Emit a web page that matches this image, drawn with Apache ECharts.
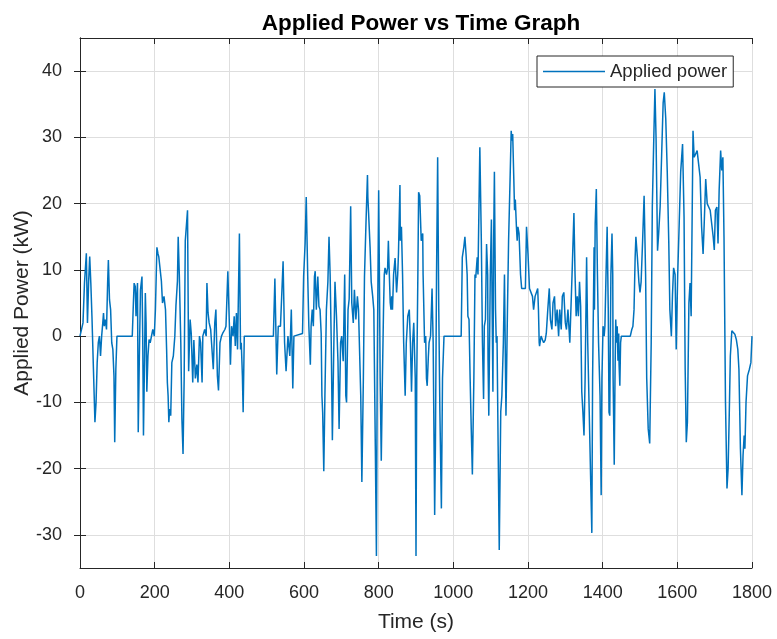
<!DOCTYPE html>
<html><head><meta charset="utf-8">
<script src="https://cdn.jsdelivr.net/npm/echarts@6/dist/echarts.min.js"></script>
<style>html,body{margin:0;padding:0;background:#fff}#c{width:777px;height:639px}</style>
</head><body><div id="c"></div>
<script>
// [time (s), applied power (kW)], split into 200 s blocks
const seg0 = [[0,0],[8,2],[12,8],[17,12.5],[20,2],[23,8],[26,12],[29,8],[32,3],[36,-5],[40,-13],[43,-10],[46,-4],[49,-1],[52,0],[55,-3],[58,0],[61,2],[63,3.5],[65,1.5],[68,2.5],[71,1],[74,8],[76,11.5],[79,5.5],[82,4],[85,-1],[88,-2],[91,-6],[93,-16],[96,-5],[99,0],[140,0],[143,5],[145,8],[148,7.5],[150,3],[152,6],[154,8],[156,-14.5],[159,-3],[162,7],[164,8],[166,9],[168,0],[170,-15],[173,-3],[175,6.5],[177,2],[179,-8.4],[182,-3],[185,-0.5],[188,-1],[195,1],[199,0]];
const seg1 = [[202,4],[206,13.4],[209,12.4],[211,12],[215,12],[218,8.3],[221,5],[225,6],[229,4],[232,-2],[234,-7],[236,-9],[238,-13],[240,-11],[243,-12],[246,-4],[250,-3],[254,0],[257,4.6],[261,8.3],[263,15],[266,9.3],[270,-1],[273,-12.6],[276,-17.8],[279,-6.4],[282,14.4],[288,19],[291,-5.3],[295,2.5],[298,0.4],[302,-7],[305,-0.6],[309,-6.4],[313,-4.3],[316,-7],[320,0],[323,-1],[327,-7],[329,0],[334,1],[338,0],[340,8],[343,3.5],[346,2],[350,1],[354,1],[357,-5],[361,2],[364,4],[368,-6],[371,-8.2],[375,-1],[379,0],[382,0.4],[388,1],[391,1.5],[396,9.8]];
const seg2 = [[400,2],[403,-4.3],[406,1.5],[410,0],[413,3],[416,-1.5],[419,3.5],[422,-2],[427,15.5],[430,-2],[432,-1],[435,-6],[437,-11.5],[440,0],[518,0],[522,8.7],[527,-5.8],[531,1.5],[537,1.5],[544,11.3],[548,-1],[552,-5.3],[557,0],[562,-3],[566,4],[570,-7.9],[573,0],[596,0.4]];
const seg3 = [[599,9],[603,14],[606,21],[610,9],[613,1.5],[617,-4.3],[619,1.5],[622,4],[625,1.5],[628,9],[630,9.8],[633,4],[637,9],[640,4.5],[643,4],[646,0.4],[648,-9],[650,-11.5],[653,-20.4],[656,-9],[660,4],[664,8.2],[667,15],[670,9.3],[673,-1],[676,-15.7],[680,-1],[683,8.2],[687,3],[691,-3.8],[694,-14],[698,-1],[701,0],[705,-3.8],[709,9.3],[712,-9],[714,-10],[718,4],[721,5.6],[725,19.6],[728,5],[732,2],[735,7],[739,2.5],[743,6],[746,4],[752,-9],[755,-22],[759,-6.4],[762,9],[766,17],[770,24.3],[771,21],[773,18.6],[777,13.4],[780,8.2],[784,6],[787,4],[791,-16.6],[794,-33.2],[796,-6.4]];
const seg4 = [[800,22],[802,9.3],[804,-6.4],[807,-18.8],[810,-6.4],[813,4],[815,9.3],[817,10.3],[821,9.3],[824,10.3],[826,14.4],[828,10.3],[831,5],[833,4],[835,6],[837,4],[840,9.3],[844,11.8],[848,6.6],[851,9.3],[853,12.4],[857,22.8],[858,14.4],[861,16.5],[864,9.3],[867,-1],[871,-9],[874,-1],[878,3],[882,4],[885,-1],[888,-8.4],[891,-1],[894,2],[898,-6.4],[900,-33.2],[902,-6.4],[905,9.3],[907,21.7],[910,21.2],[914,14.4],[918,15.5],[919,9.3],[923,-1],[926,0],[928,-6.4],[930,-7.5],[933,-3.2],[935,-1],[939,0],[943,7.2],[946,-1],[950,-27],[952,-16.6],[955,9.3],[958,27],[961,4],[964,-11.4],[968,-26],[971,-6.4],[975,0]];
const seg5 = [[1021,0],[1024,11.9],[1028,13.4],[1031,15],[1034,12.4],[1037,9.3],[1039,3],[1042,2.5],[1045,-6.4],[1048,-14],[1051,-20.9],[1055,-6.4],[1058,9.3],[1060,8.8],[1064,11.9],[1066,9.3],[1071,28.5],[1075,14.4],[1078,-1],[1081,-9.5],[1083,1.5],[1086,2.5],[1089,13.9],[1092,9.3],[1093,-3.7],[1095,-12],[1099,9.3],[1102,17.6],[1104,4],[1106,-8.4],[1108,14.4],[1110,24.8],[1113,4],[1115,-1],[1117,0],[1120,-16.6],[1123,-32.3],[1127,-11.4],[1130,-9],[1134,-1],[1137,9.3],[1141,-12],[1145,4],[1148,14.4],[1152,23.7],[1155,31],[1157,29.5],[1159,30.5],[1162,23.7],[1164,19],[1166,20.6],[1169,16.5],[1171,14.4],[1173,16.5],[1176,15.5],[1180,9.3],[1183,7.2],[1193,7.2],[1196,16.5]];
const seg6 = [[1200,12.4],[1204,7.2],[1208,7.2],[1212,6],[1215,4],[1217,5],[1219,6],[1222,6],[1226,7.2],[1228,4],[1230,-1],[1231,-1.5],[1235,0],[1239,-0.6],[1242,-1],[1246,-0.6],[1249,0.4],[1253,4],[1257,7.2],[1260,2.5],[1264,1],[1267,5],[1271,6],[1274,1.5],[1278,4],[1282,0],[1285,4],[1289,1],[1292,6],[1296,6.6],[1300,2],[1303,1],[1307,4],[1312,-1],[1318,9.3],[1323,18.6],[1326,9.3],[1329,3],[1332,6],[1335,3],[1338,8.2],[1341,4.5],[1344,-8.4],[1347,-11.4],[1350,-15],[1353,-6.4],[1357,11.9],[1360,-1],[1364,-11.4],[1368,-22],[1371,-29.7],[1373,-6.4],[1377,13.4],[1378,4],[1380,17],[1383,22.2],[1386,9.3],[1389,-1],[1393,-9],[1396,-24],[1398,-6.4]];
const seg7 = [[1401,1.5],[1404,0],[1406,1.5],[1409,9.3],[1412,16.5],[1415,4],[1417,-11.5],[1419,-12],[1422,9.3],[1425,15.5],[1427,9.3],[1428,-6.4],[1431,-19.4],[1433,-6.4],[1435,2.5],[1437,-1],[1439,1.5],[1441,-3.7],[1443,0.4],[1444,-4.3],[1446,-7.5],[1448,-1],[1450,0],[1474,0],[1478,1],[1481,1.5],[1484,4],[1487,11.9],[1489,15],[1493,11.9],[1497,8.2],[1500,6.6],[1503,8.2],[1507,14.4],[1511,21.2],[1515,9.3],[1518,-6.4],[1522,-14],[1526,-16.2],[1530,-1],[1533,19.6],[1537,30],[1540,37.3],[1543,30],[1547,12.9],[1550,15.5],[1554,19.6],[1558,27.4],[1562,35.2],[1565,36.8],[1569,32.8],[1573,24.8],[1577,14.4],[1580,4],[1584,0],[1587,6.2],[1590,10.3],[1594,9.3],[1597,-2]];
const seg8 = [[1601,9.3],[1605,17],[1609,24.8],[1614,29],[1618,18],[1621,-5],[1624,-16],[1627,-13],[1631,5],[1634,8],[1637,3],[1642,31],[1645,27],[1649,27.5],[1653,28],[1657,26],[1661,24],[1665,16.5],[1669,12.4],[1672,17],[1676,23.7],[1680,20],[1684,19.5],[1688,19],[1692,17],[1696,15],[1699,13],[1702,19],[1706,19.5],[1709,14],[1712,22],[1716,28],[1719,25],[1722,27],[1725,15],[1729,-10],[1733,-23],[1736,-20],[1739,-12],[1742,-3],[1746,0.8],[1750,0.8],[1754,0.3],[1758,-0.5],[1762,-2],[1765,-5],[1769,-17],[1773,-24],[1776,-18],[1779,-15],[1781,-17],[1784,-10],[1788,-6],[1793,-5],[1797,-4],[1800,0]];

const xTicks = [0,200,400,600,800,1000,1200,1400,1600,1800];
const yTicks = [-30,-20,-10,0,10,20,30,40];
const seriesName = 'Applied power';

const data = [].concat(seg0, seg1, seg2, seg3, seg4, seg5, seg6, seg7, seg8);

const FONT = '"Liberation Sans", Arial, Helvetica, sans-serif';
const AX = '#262626';
const LINE = '#0072BD';
const plain = v => String(v);
const chart = echarts.init(document.getElementById('c'), null, {renderer: 'canvas'});

const yBase = {
  type: 'value', min: -35, max: 45,
  axisLine: {show: true, lineStyle: {color: AX, width: 1}},
  axisTick: {show: true, inside: true, length: 6, customValues: yTicks, lineStyle: {color: AX}},
  axisLabel: {customValues: yTicks}
};
const xBase = {
  type: 'value', min: 0, max: 1800, interval: 200,
  axisLine: {show: true, onZero: false, lineStyle: {color: AX, width: 1}},
  axisTick: {show: true, inside: true, length: 6, lineStyle: {color: AX}}
};

chart.setOption({
  animation: false,
  backgroundColor: '#fff',
  title: {
    text: 'Applied Power vs Time Graph', left: 416, top: 7, textAlign: 'center',
    textStyle: {fontFamily: FONT, fontSize: 22.5, fontWeight: 'bold', color: '#000'}
  },
  legend: {
    data: [{name: seriesName, icon: 'rect'}], left: 537, top: 56,
    itemWidth: 62, itemHeight: 1.5, padding: [6, 6, 6, 6],
    backgroundColor: '#fff', borderColor: AX, borderWidth: 1, borderRadius: 0,
    itemStyle: {color: LINE},
    textStyle: {fontFamily: FONT, fontSize: 18.5, color: AX}
  },
  grid: {left: 80, right: 25, top: 38, bottom: 71, containLabel: false, outerBoundsMode: 'none'},
  xAxis: [
    Object.assign({}, xBase, {
      position: 'bottom',
      name: 'Time (s)', nameLocation: 'middle', nameGap: 44, nameMoveOverlap: false,
      nameTextStyle: {fontFamily: FONT, fontSize: 21, color: AX},
      axisLabel: {show: true, margin: 16, fontFamily: FONT, fontSize: 18, color: AX, formatter: plain},
      splitLine: {show: true, lineStyle: {color: '#dedede', width: 1}}
    }),
    Object.assign({}, xBase, {
      position: 'top', axisLabel: {show: false}, splitLine: {show: false}
    })
  ],
  yAxis: [
    Object.assign({}, yBase, {
      position: 'left',
      name: 'Applied Power (kW)', nameLocation: 'middle', nameGap: 47, nameRotate: 90, nameMoveOverlap: false,
      nameTextStyle: {fontFamily: FONT, fontSize: 21, color: AX},
      axisLabel: {show: true, customValues: yTicks, margin: 18, fontFamily: FONT, fontSize: 18, color: AX, formatter: plain},
      splitLine: {show: true, lineStyle: {color: '#dedede', width: 1}}
    }),
    Object.assign({}, yBase, {
      position: 'right', axisLabel: {show: false}, splitLine: {show: false}
    })
  ],
  series: [{
    name: seriesName, type: 'line', data: data,
    xAxisIndex: 0, yAxisIndex: 0,
    symbol: 'none', showSymbol: false,
    lineStyle: {color: LINE, width: 1.5},
    itemStyle: {color: LINE}
  }]
});
</script></body></html>
